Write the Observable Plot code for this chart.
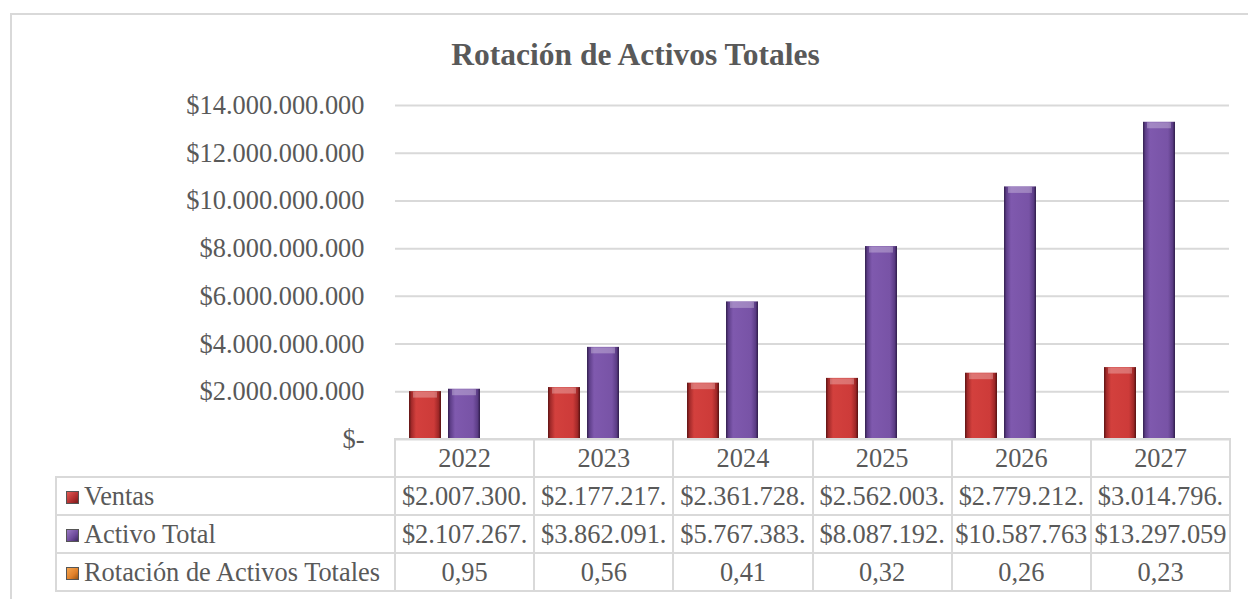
<!DOCTYPE html>
<html><head><meta charset="utf-8">
<script src="https://cdn.jsdelivr.net/npm/d3@7"></script>
<script src="https://cdn.jsdelivr.net/npm/@observablehq/plot@0.6"></script>
<style>
body{margin:0;background:#fff;font-family:"Liberation Serif","Times New Roman",serif;}
#wrap{position:relative;width:1248px;height:599px;overflow:hidden;background:#fff;}
#frame{position:absolute;left:10px;top:13px;width:1300px;height:700px;border:2px solid #d9d9d9;box-sizing:border-box;}
#title{position:absolute;left:11px;width:1249px;top:38px;text-align:center;font-weight:bold;font-size:31.5px;color:#595959;line-height:34px;font-family:"Liberation Serif",serif;}
#chart{position:absolute;left:0;top:80px;}
#tbl{position:absolute;left:55px;top:438px;border-collapse:collapse;table-layout:fixed;font-size:26.4px;color:#595959;font-family:"Liberation Serif",serif;}
#tbl td{border:2px solid #d9d9d9;height:36px;padding:0;text-align:center;white-space:nowrap;overflow:hidden;line-height:30px;font-family:"Liberation Serif",serif;}
#tbl td.lab{text-align:left;padding-left:9px;}
#tbl td.blank{border-left:none;border-top:none;}
.key{display:inline-block;width:13px;height:13px;margin-right:5px;vertical-align:1px;border:1px solid #555;box-sizing:border-box;}
</style>
</head><body>
<svg width="0" height="0" style="position:absolute">
<defs>
<linearGradient id="gVentas" x1="0" x2="1" y1="0" y2="0">
 <stop offset="0" stop-color="#5e1414"/>
 <stop offset="0.08" stop-color="#a32a2a"/>
 <stop offset="0.22" stop-color="#d3403d"/>
 <stop offset="0.78" stop-color="#cd3b39"/>
 <stop offset="0.92" stop-color="#a02828"/>
 <stop offset="1" stop-color="#551111"/>
</linearGradient>
<linearGradient id="gActivo" x1="0" x2="1" y1="0" y2="0">
 <stop offset="0" stop-color="#33204f"/>
 <stop offset="0.08" stop-color="#5f3f8a"/>
 <stop offset="0.22" stop-color="#7f59ae"/>
 <stop offset="0.78" stop-color="#7853a6"/>
 <stop offset="0.92" stop-color="#5c3d86"/>
 <stop offset="1" stop-color="#2f1d4a"/>
</linearGradient>
<linearGradient id="gRot" x1="0" x2="1" y1="0" y2="0">
 <stop offset="0" stop-color="#8a4a10"/>
 <stop offset="0.2" stop-color="#e8862c"/>
 <stop offset="0.8" stop-color="#e5822a"/>
 <stop offset="1" stop-color="#8a4a10"/>
</linearGradient>
</defs>
</svg>
<div id="wrap">
  <div id="frame"></div>
  <div id="title">Rotación de Activos Totales</div>
  <div id="chart"></div>
  <table id="tbl"></table>
</div>
<script>
// ---- data ----
const years = ["2022", "2023", "2024", "2025", "2026", "2027"];
const series = ["Ventas", "Activo Total", "Rotación de Activos Totales"];
const ventas = [2007300000, 2177217000, 2361728000, 2562003000, 2779212000, 3014796000];
const activoTotal = [2107267000, 3862091000, 5767383000, 8087192000, 10587763000, 13297059000];
const rotacion = [0.95, 0.56, 0.41, 0.32, 0.26, 0.23];
// cell texts as displayed (truncated by the cell width in the original)
const ventasText = ["$2.007.300.", "$2.177.217.", "$2.361.728.", "$2.562.003.", "$2.779.212.", "$3.014.796."];
const activoText = ["$2.107.267.", "$3.862.091.", "$5.767.383.", "$8.087.192.", "$10.587.763", "$13.297.059"];
const yTicks = [0, 2e9, 4e9, 6e9, 8e9, 10e9, 12e9, 14e9];
const seriesFills = ["url(#gVentas)", "url(#gActivo)", "url(#gRot)"];
const keyCss = [
  "linear-gradient(135deg,#e25a55,#b02e2e 60%,#7a1a1a)",
  "linear-gradient(135deg,#9a7ac4,#6d4a9a 60%,#3f2a63)",
  "linear-gradient(135deg,#f5a650,#e0802a 60%,#9a5512)"
];

const locale = d3.formatLocale({decimal: ",", thousands: ".", grouping: [3], currency: ["$", ""]});
const money = locale.format("$,.0f");
const yFmt = d => d === 0 ? "$-" : money(d);
const ratioFmt = locale.format(".2f");

const data = years.flatMap((yr, i) => [
  {year: yr, series: series[0], value: ventas[i]},
  {year: yr, series: series[1], value: activoTotal[i]},
  {year: yr, series: series[2], value: rotacion[i]}
]);

const chart = Plot.plot({
  width: 1248,
  height: 376,
  marginLeft: 394,
  marginRight: 19,
  marginTop: 25,
  marginBottom: 17,
  style: {fontFamily: "'Liberation Serif','Times New Roman',serif", fontSize: "26.4px", color: "#595959", background: "transparent", overflow: "visible"},
  fx: {domain: years, padding: 0, axis: null},
  x: {domain: series, paddingInner: 0.17, paddingOuter: 0.367, axis: null},
  y: {domain: [0, 14e9], axis: null},
  color: {domain: series, range: seriesFills},
  marks: [
    Plot.gridY(yTicks, {stroke: "#d9d9d9", strokeOpacity: 1, strokeWidth: 2}),
    Plot.axisY(yTicks, {tickSize: 0, tickPadding: 31, tickFormat: yFmt, fill: "#595959", fontSize: 26.4, label: null}),
    Plot.barY(data, {fx: "year", x: "series", y: "value", fill: "series"}),
    Plot.tickY(data.filter(d => d.series !== series[2]), {fx: "year", x: "series", y: "value", stroke: "#ffffff", strokeOpacity: 0.28, strokeWidth: 6, dy: 3, inset: 4})
  ]
});
document.getElementById("chart").appendChild(chart);

// ---- data table ----
const tbl = document.getElementById("tbl");
const cg = document.createElement("colgroup");
cg.innerHTML = `<col style="width:339px">` + years.map(() => `<col style="width:139.2px">`).join("");
tbl.appendChild(cg);
const rows = [
  {label: null, cells: years},
  {label: series[0], key: keyCss[0], cells: ventasText},
  {label: series[1], key: keyCss[1], cells: activoText},
  {label: series[2], key: keyCss[2], cells: rotacion.map(ratioFmt)}
];
for (const r of rows) {
  const tr = document.createElement("tr");
  const th = document.createElement("td");
  if (r.label === null) { th.className = "blank"; }
  else {
    th.className = "lab";
    const k = document.createElement("span");
    k.className = "key"; k.style.background = r.key;
    th.appendChild(k);
    th.appendChild(document.createTextNode(r.label));
  }
  tr.appendChild(th);
  for (const c of r.cells) {
    const td = document.createElement("td");
    td.textContent = c;
    tr.appendChild(td);
  }
  tbl.appendChild(tr);
}
</script>
</body></html>
